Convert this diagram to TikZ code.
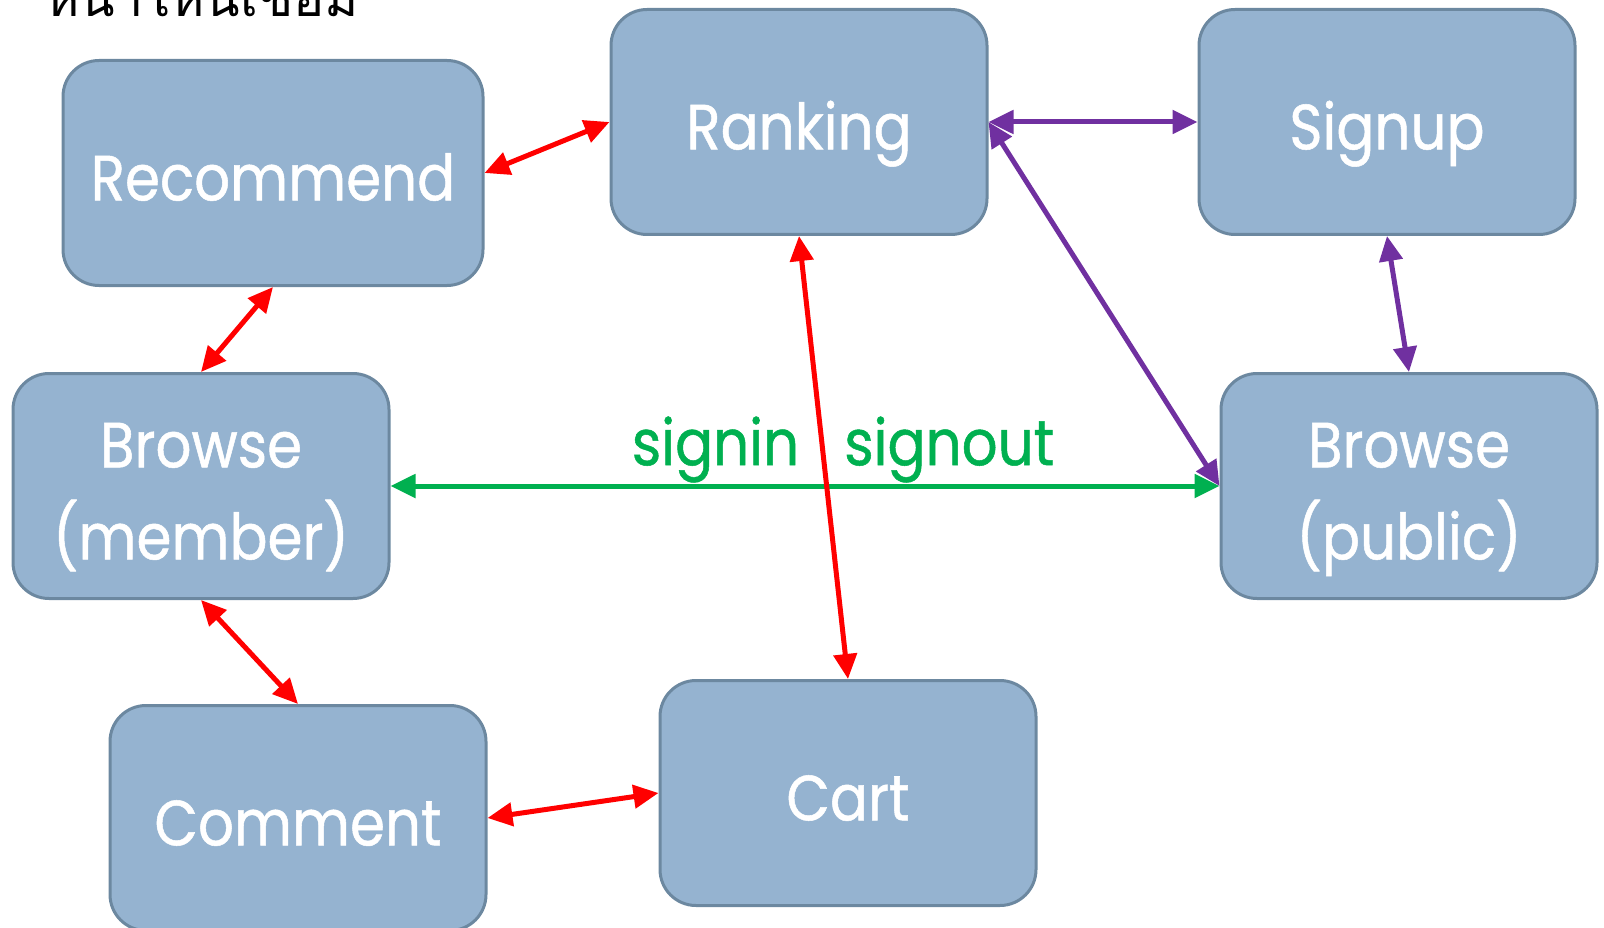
\documentclass[tikz,border=0pt]{standalone}
\usepackage{fontspec}
\setmainfont{Poppins}[FakeStretch=0.88,FakeBold=0.8]
\newfontfamily\thaifont[Script=Thai]{Loma}
\usetikzlibrary{positioning,arrows.meta}
\definecolor{boxfill}{RGB}{149,179,208}
\definecolor{boxline}{RGB}{108,136,160}
\definecolor{linkred}{RGB}{255,0,0}
\definecolor{linkpurple}{RGB}{112,48,160}
\definecolor{linkgreen}{RGB}{0,176,80}
% text in the boxes sits a bit below the middle
\newcommand{\lowline}[1]{\raisebox{-9pt}[\height][\depth]{\strut #1}}

\begin{document}
\begin{tikzpicture}[
  x = 1pt,
  y = 1pt,
  page/.style = {
    draw = boxline,
    line width = 3pt,
    fill = boxfill,
    rectangle,
    rounded corners = 36pt,
    minimum width = 376pt,
    minimum height = 225pt,
    text = white,
    align = center,
    font = \fontsize{64}{92}\selectfont,
  },
  link/.style = {
    <->,
    line width = 5pt,
  },
  redlink/.style = {link, color = linkred},
  purplelink/.style = {link, color = linkpurple},
  greenlink/.style = {link, color = linkgreen},
  tag/.style = {
    text = linkgreen,
    font = \fontsize{64}{66}\selectfont,
    inner sep = 1pt,
  },
  >={Triangle[length=25pt,width=23pt]},
]

  \useasboundingbox (0,0) rectangle (1604,-928);
  \clip (0,0) rectangle (1604,-928);

  \node[anchor=base west, inner sep=0pt, font=\thaifont\fontsize{52}{56}\selectfont] (title) at (45,-17) {หน้าไหนเชื่อม};

  \node[page] (ranking) at (799,-122) {\lowline{Ranking}};
  \node[page] (signup) [right=209pt of ranking] {\lowline{Signup}};
  \node[page, minimum width = 420pt] (recommend) at (273,-173) {\lowline{Recommend}};
  \node[page] (member) at (201,-486) {\lowline{Browse}\\\lowline{(member)}};
  \node[page] (public) at (1409,-486) {\lowline{Browse}\\\lowline{(public)}};
  \node[page] (comment) at (298,-818) {\lowline{Comment}};
  \node[page] (cart) at (848,-793) {\lowline{Cart}};

  \path[redlink] (recommend.east) edge (ranking.west);
  \path[redlink] (recommend.south) edge (member.north);
  \path[redlink] (member.south) edge (comment.north);
  \path[redlink] (comment.east) edge (cart.west);

  \path[greenlink] (member.east) edge
    node[tag, pos=0.392, above] (signin) {signin}
    node[tag, pos=0.674, above] (signout) {signout} (public.west);

  \path[redlink] (ranking.south) edge (cart.north);

  \path[purplelink] (ranking.east) edge (signup.west);
  \path[purplelink] (ranking.east) edge (public.west);
  \path[purplelink] (signup.south) edge (public.north);

\end{tikzpicture}
\end{document}
